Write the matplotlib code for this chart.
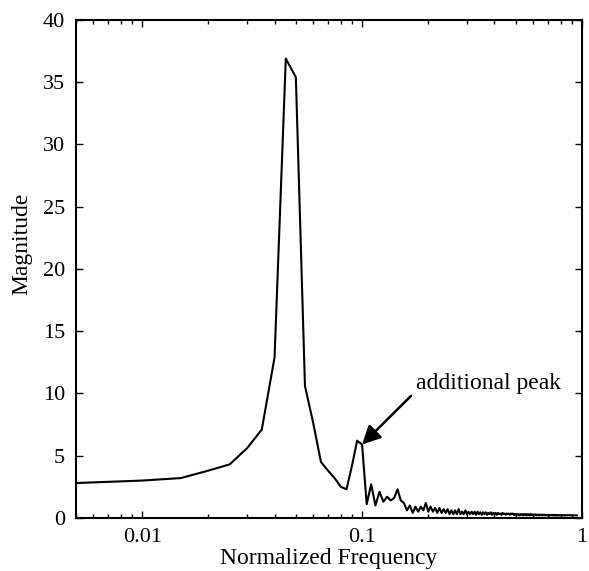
import matplotlib.pyplot as plt
import numpy as np

plt.rcParams['font.family'] = ['Liberation Serif', 'DejaVu Serif']

# frequency step of the spectrum
df = 0.005

# magnitude at k*df, k = 1..200
magLow = [2.8, 3.0, 3.2, 3.8, 4.3, 5.6, 7.1, 12.9, 36.9, 35.4,
          10.6, 7.6, 4.5, 3.8, 3.2, 2.5, 2.3, 4.2, 6.2, 5.9]
magTail = [1.1, 2.7, 1.0, 2.1, 1.3, 1.7, 1.4, 1.6, 2.3, 1.4,
           1.2, 0.6, 1.0, 0.4, 0.9, 0.5, 0.9, 0.6, 1.2, 0.5,
           0.9, 0.5, 0.8, 0.4, 0.8, 0.4, 0.7, 0.4, 0.7, 0.3,
           0.6, 0.3, 0.6, 0.3, 0.7, 0.3, 0.5, 0.3, 0.6, 0.3,
           0.5, 0.3, 0.5, 0.3, 0.5, 0.25, 0.5, 0.3, 0.45, 0.25,
           0.45, 0.3, 0.45, 0.25, 0.4, 0.3, 0.45, 0.25, 0.4, 0.3,
           0.4, 0.25, 0.4, 0.3, 0.35, 0.25, 0.4, 0.3, 0.35, 0.25,
           0.35, 0.3, 0.35, 0.25, 0.35, 0.3, 0.35, 0.25, 0.3, 0.25,
           0.3, 0.25, 0.3, 0.2, 0.3, 0.25, 0.3, 0.2, 0.3, 0.25,
           0.3, 0.2, 0.3, 0.25, 0.28, 0.2, 0.3, 0.22, 0.28, 0.2,
           0.28, 0.22, 0.28, 0.2, 0.26, 0.22, 0.27, 0.2, 0.26, 0.22,
           0.26, 0.2, 0.26, 0.22, 0.25, 0.2, 0.25, 0.22, 0.25, 0.2,
           0.25, 0.2, 0.24, 0.21, 0.24, 0.2, 0.24, 0.21, 0.24, 0.2,
           0.23, 0.2, 0.23, 0.21, 0.23, 0.2, 0.23, 0.21, 0.22, 0.2,
           0.22, 0.2, 0.22, 0.21, 0.22, 0.2, 0.22, 0.21, 0.22, 0.2,
           0.22, 0.2, 0.22, 0.21, 0.22, 0.2, 0.22, 0.21, 0.22, 0.2,
           0.21, 0.2, 0.21, 0.2, 0.21, 0.2, 0.21, 0.2, 0.21, 0.2]
mag = magLow + magTail
freq = df * np.arange(1, len(mag) + 1)

yTicks = [0, 5, 10, 15, 20, 25, 30, 35, 40]
xTicks = [0.01, 0.1, 1]
xTickLabels = ['0.01', '0.1', '1']

fig = plt.figure(figsize=(5.89, 5.71), dpi=100)
ax = fig.add_axes([0.129, 0.093, 0.859, 0.872])
ax.plot(freq, mag, color='black', linewidth=1.5)
ax.set_xscale('log')
ax.set_xlim([0.005, 1])
ax.set_ylim([0, 40])
ax.set_yticks(yTicks)
ax.set_xticks(xTicks)
ax.set_xticklabels(xTickLabels)
ax.tick_params(which='both', direction='in', top=True, right=True, labelsize=16)
ax.tick_params(which='major', length=5, width=1)
ax.tick_params(which='minor', length=3, width=1)
ax.tick_params(axis='x', which='major', pad=7)
ax.tick_params(axis='y', which='major', pad=8)
for s in ax.spines.values():
    s.set_linewidth(1.5)
ax.set_xlabel('Normalized Frequency', fontsize=17)
ax.xaxis.label.set_va('baseline')
ax.xaxis.set_label_coords(0.5, -0.092)
ax.set_ylabel('Magnitude', fontsize=17)
ax.yaxis.set_label_coords(-0.087, 0.551)

# flecha apontando o segundo pico
ax.text(0.176, 10.8, 'additional peak', fontsize=17, va='center', ha='left')
ax.annotate('', xy=(0.1, 5.9), xytext=(0.167, 9.8),
            arrowprops=dict(arrowstyle='-|>', color='black', lw=1.8,
                            mutation_scale=28, shrinkA=0, shrinkB=0))

plt.savefig('out.png')
